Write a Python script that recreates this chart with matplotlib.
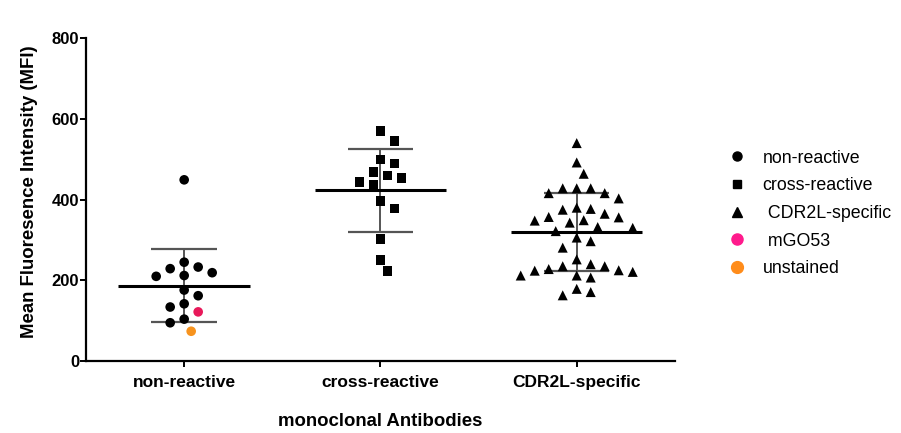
import numpy as np
import matplotlib
matplotlib.use("Agg")
import matplotlib.pyplot as plt
from matplotlib.lines import Line2D

plt.rcParams['font.family'] = ['Liberation Sans', 'DejaVu Sans']

# values (MFI)
categories = ['non-reactive', 'cross-reactive', 'CDR2L-specific']
non_reactive = [449, 245, 233, 229, 219, 212, 210, 176, 162, 142, 134, 104, 95]
mgo53 = [122]
unstained = [74]
cross_reactive = [570, 545, 499, 489, 469, 460, 454, 444, 436, 397, 378, 302, 251, 223]
cdr2l_specific = [540, 492, 464, 428, 428, 428, 416, 416, 403, 380, 377, 375, 365,
                  357, 356, 349, 348, 343, 332, 330, 322, 306, 297, 281, 252, 240,
                  235, 235, 228, 225, 224, 221, 212, 212, 207, 179, 171, 163]

red = '#e8195a'
orange = '#f7931e'


def swarm(ax, xc, values, step_px=7.0, min_dist=13.0):
    """simple beeswarm: returns x positions (data units) for the values"""
    to_px = ax.transData
    order = np.argsort(values)[::-1]
    placed = []
    xs = np.zeros(len(values))
    for i in order:
        px, py = to_px.transform((xc, values[i]))
        k = 0
        while True:
            cands = [0] if k == 0 else [k, -k]
            done = False
            for c in cands:
                cx = px + c * step_px
                if all((cx - qx) ** 2 + (py - qy) ** 2 >= min_dist ** 2 for qx, qy in placed):
                    placed.append((cx, py))
                    xs[i] = to_px.inverted().transform((cx, py))[0]
                    done = True
                    break
            if done:
                break
            k += 1
    return xs


fig = plt.figure(figsize=(9.01, 4.33), dpi=100)
ax = fig.add_axes([0.0955, 0.166, 0.6535, 0.746])
ax.set_xlim(0.5, 3.5)
ax.set_ylim(0, 800)

groups = [non_reactive + mgo53 + unstained, cross_reactive, cdr2l_specific]
markers = ['o', 's', '^']
for i, vals in enumerate(groups):
    xc = i + 1
    vals = np.array(vals, dtype=float)
    xs = swarm(ax, xc, vals)
    cols = ['black'] * len(vals)
    if i == 0:
        cols[len(non_reactive)] = red
        cols[len(non_reactive) + 1] = orange
    ms = 48 if markers[i] != '^' else 52
    ax.scatter(xs, vals, marker=markers[i], s=ms, c=cols, edgecolors='none', zorder=3)
    m = vals.mean()
    sd = vals.std(ddof=1)
    ax.hlines(m, xc - 0.335, xc + 0.335, color='black', lw=2.2, zorder=4)
    ax.vlines(xc, m - sd, m + sd, color='#555555', lw=1.4, zorder=2)
    ax.hlines([m - sd, m + sd], xc - 0.167, xc + 0.167, color='#555555', lw=1.6, zorder=2)

for s in ['top', 'right']:
    ax.spines[s].set_visible(False)
for s in ['left', 'bottom']:
    ax.spines[s].set_linewidth(1.6)

ax.set_yticks([0, 200, 400, 600, 800])
ax.set_xticks([1, 2, 3])
ax.set_xticklabels(categories)
ax.tick_params(axis='y', length=4, width=1.4, pad=1, labelsize=12)
ax.tick_params(axis='x', length=4, width=1.4, pad=6, labelsize=12.5)
for lab in ax.get_xticklabels() + ax.get_yticklabels():
    lab.set_fontweight('bold')

ax.set_ylabel('Mean Fluoresence Intensity (MFI)', fontsize=13.4, fontweight='bold')
ax.yaxis.set_label_coords(-0.081, 0.525)
ax.set_xlabel('monoclonal Antibodies', fontsize=13.4, fontweight='bold')
ax.xaxis.set_label_coords(0.5, -0.16)

handles = [
    Line2D([], [], marker='o', ls='none', color='black', markersize=6.5),
    Line2D([], [], marker='s', ls='none', color='black', markersize=6),
    Line2D([], [], marker='^', ls='none', color='black', markersize=6.5),
    Line2D([], [], marker='o', ls='none', color='#ff1a8c', markersize=8),
    Line2D([], [], marker='o', ls='none', color='#ff8c1a', markersize=8.5),
]
labels = ['non-reactive', 'cross-reactive', ' CDR2L-specific', ' mGO53', 'unstained']
fig.legend(handles, labels, loc='center left', bbox_to_anchor=(0.794, 0.507),
           frameon=False, fontsize=12.8, labelspacing=0.6, handletextpad=0.95,
           handlelength=1.0, borderpad=0.2)

fig.savefig('out.png', dpi=100)
